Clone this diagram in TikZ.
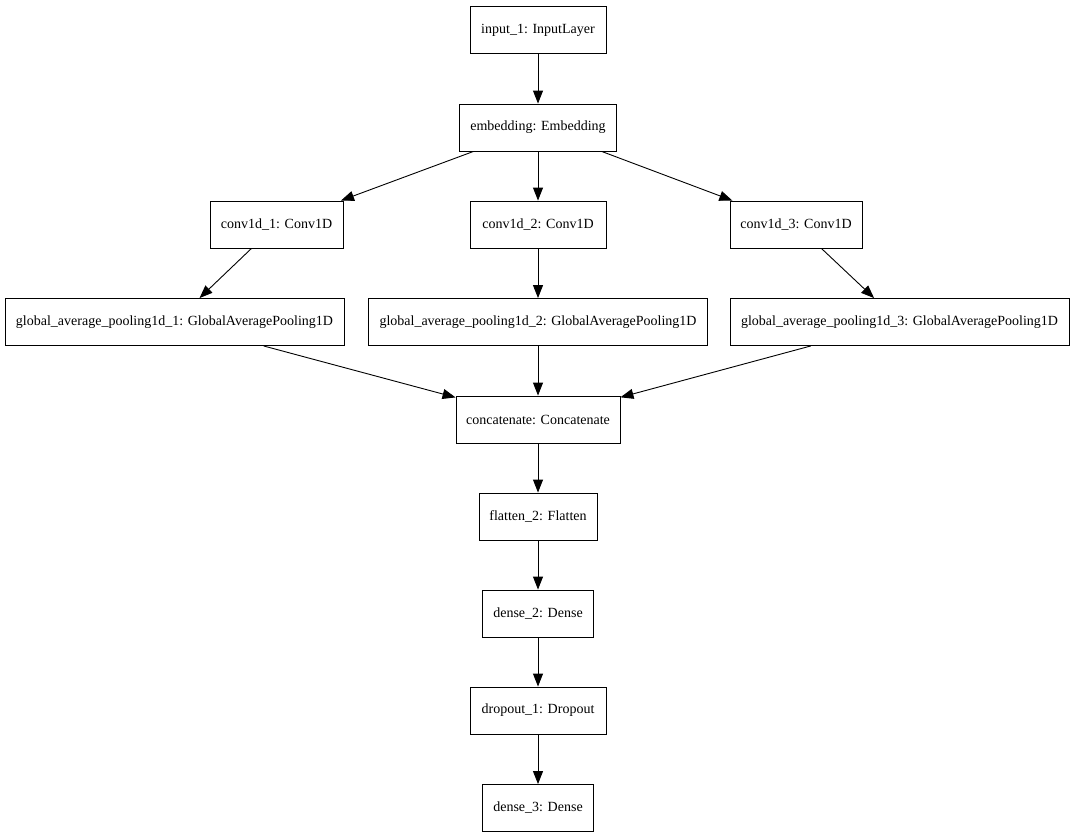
\documentclass[tikz,border=0pt]{standalone}
\usepackage{fontspec}
\setmainfont{Liberation Serif}
\usetikzlibrary{arrows.meta}
\begin{document}
\begin{tikzpicture}[x=1pt,y=-1pt,
  layer/.style={draw,line width=0.9pt,minimum height=47pt,inner sep=0pt,font=\fontsize{14}{16}\selectfont},
  edge/.style={line width=0.9pt,-{Triangle[length=13pt,width=10pt]}}]
\useasboundingbox (0,0) rectangle (1075,839);
\node[layer,minimum width=136pt] (in) at (538,30) {input\_1: InputLayer};
\node[layer,minimum width=157pt] (emb) at (538,127.5) {embedding: Embedding};
\node[layer,minimum width=133pt] (c1) at (276.5,224.5) {conv1d\_1: Conv1D};
\node[layer,minimum width=136pt] (c2) at (538,224.5) {conv1d\_2: Conv1D};
\node[layer,minimum width=132pt] (c3) at (796,224.5) {conv1d\_3: Conv1D};
\node[layer,minimum width=339pt] (g1) at (174.5,322) {global\_average\_pooling1d\_1: GlobalAveragePooling1D};
\node[layer,minimum width=339pt] (g2) at (538,322) {global\_average\_pooling1d\_2: GlobalAveragePooling1D};
\node[layer,minimum width=339pt] (g3) at (899.5,322) {global\_average\_pooling1d\_3: GlobalAveragePooling1D};
\node[layer,minimum width=164pt] (cat) at (538,419.5) {concatenate: Concatenate};
\node[layer,minimum width=118pt] (fl) at (538,516.5) {flatten\_2: Flatten};
\node[layer,minimum width=111pt] (d2) at (538,613.5) {dense\_2: Dense};
\node[layer,minimum width=136pt] (dr) at (538,710.5) {dropout\_1: Dropout};
\node[layer,minimum width=111pt] (d3) at (538,808) {dense\_3: Dense};
\draw[edge] (in) -- (emb);
\draw[edge] (emb) -- (c1);
\draw[edge] (emb) -- (c2);
\draw[edge] (emb) -- (c3);
\draw[edge] (c1) -- (g1);
\draw[edge] (c2) -- (g2);
\draw[edge] (c3) -- (g3);
\draw[edge] (g1) -- (cat);
\draw[edge] (g2) -- (cat);
\draw[edge] (g3) -- (cat);
\draw[edge] (cat) -- (fl);
\draw[edge] (fl) -- (d2);
\draw[edge] (d2) -- (dr);
\draw[edge] (dr) -- (d3);
\end{tikzpicture}
\end{document}
